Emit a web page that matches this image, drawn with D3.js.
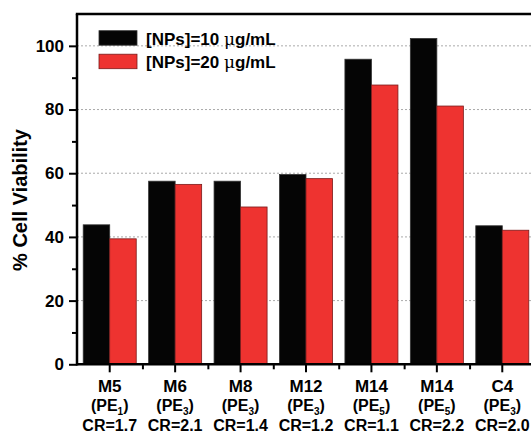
<!DOCTYPE html>
<html>
<head>
<meta charset="utf-8">
<script src="https://cdn.jsdelivr.net/npm/d3@7"></script>
<style>
  body { margin: 0; background: #fff; }
  svg text { font-family: "Liberation Sans", Arial, sans-serif; font-weight: bold; fill: #000; }
</style>
</head>
<body>
<svg id="chart"></svg>
<script>
const width = 531;
const height = 433;

// data
const samples = ['M5', 'M6', 'M8', 'M12', 'M14', 'M14', 'C4'];
const polymerSub = ['1', '3', '3', '3', '5', '5', '3'];
const crValues = ['1.7', '2.1', '1.4', '1.2', '1.1', '2.2', '2.0'];
const viability10 = [43.8, 57.5, 57.5, 59.6, 95.8, 102.3, 43.5];
const viability20 = [39.4, 56.5, 49.4, 58.3, 87.7, 81.1, 42.1];
const seriesNames = ['[NPs]=10 ', '[NPs]=20 '];
const seriesColors = ['#050505', '#ee3330'];
const yMajor = [0, 20, 40, 60, 80, 100];
const yMinor = [10, 30, 50, 70, 90];

const plot = { left: 77, right: 535, top: 14, bottom: 364.3 };

const svg = d3.select('#chart').attr('width', width).attr('height', height);

const idx = samples.map((d, i) => i);
const x = d3.scaleBand().domain(idx).range([plot.left, plot.right]);
const xSub = d3.scaleBand().domain([0, 1]).range([0, x.bandwidth()]).paddingOuter(0.234);
const xEdge = d3.scaleLinear().domain([0, samples.length]).range([plot.left, plot.right]);
const y = d3.scaleLinear().domain([0, 110]).range([plot.bottom, plot.top]);

// dashed grid lines -------------------
svg.append('g')
  .selectAll('line')
  .data(yMajor.filter(v => v > 0))
  .join('line')
  .attr('x1', plot.left)
  .attr('x2', plot.right)
  .attr('y1', d => y(d))
  .attr('y2', d => y(d))
  .attr('stroke', '#aaa')
  .attr('stroke-width', 1)
  .attr('stroke-dasharray', '2,2');

// bars
const rows = idx.map(i => ({ i, vals: [viability10[i], viability20[i]] }));
const groupsG = svg.append('g')
  .selectAll('g')
  .data(rows)
  .join('g')
  .attr('transform', d => `translate(${x(d.i)},0)`);
groupsG.selectAll('rect')
  .data(d => d.vals.map((v, s) => ({ v, s })))
  .join('rect')
  .attr('x', d => xSub(d.s))
  .attr('width', xSub.bandwidth())
  .attr('y', d => y(d.v))
  .attr('height', d => y(0) - y(d.v))
  .attr('fill', d => seriesColors[d.s])
  .attr('stroke', d => d.s ? '#7a1a1a' : '#333')
  .attr('stroke-width', 0.8);

// axes --------------------------------
const axisStyle = g => {
  g.select('.domain').remove();
  g.selectAll('.tick line').attr('stroke', '#000').attr('stroke-width', 2);
};

svg.append('g')
  .attr('transform', `translate(${plot.left},0)`)
  .call(d3.axisLeft(y).tickValues(yMajor).tickSize(8).tickPadding(5))
  .call(axisStyle)
  .call(g => g.selectAll('.tick text').style('font-size', '17px'));
svg.append('g')
  .attr('transform', `translate(${plot.left},0)`)
  .call(d3.axisLeft(y).tickValues(yMinor).tickSize(5).tickFormat(''))
  .call(axisStyle);

svg.append('g')
  .attr('transform', `translate(0,${plot.bottom})`)
  .call(d3.axisBottom(x).tickSize(8).tickFormat(''))
  .call(axisStyle);
svg.append('g')
  .attr('transform', `translate(0,${plot.bottom})`)
  .call(d3.axisBottom(xEdge).tickValues(d3.range(1, samples.length)).tickSize(5).tickFormat(''))
  .call(axisStyle);

// frame
svg.append('line')
  .attr('x1', plot.left).attr('x2', plot.right)
  .attr('y1', plot.bottom).attr('y2', plot.bottom)
  .attr('stroke', '#000').attr('stroke-width', 2.5);
svg.append('line')
  .attr('x1', plot.left).attr('x2', plot.left)
  .attr('y1', plot.top).attr('y2', plot.bottom + 1.2)
  .attr('stroke', '#000').attr('stroke-width', 2.5);
svg.append('line')
  .attr('x1', plot.left - 1.2).attr('x2', plot.right)
  .attr('y1', plot.top).attr('y2', plot.top)
  .attr('stroke', '#000').attr('stroke-width', 2.5);

// category labels, three lines each
const labels = svg.append('g')
  .selectAll('text')
  .data(idx)
  .join('text')
  .attr('text-anchor', 'middle')
  .attr('transform', d => `translate(${x(d) + x.bandwidth() / 2},0)`);
labels.append('tspan')
  .attr('x', 0).attr('y', 391.5)
  .style('font-size', '17px')
  .text(d => samples[d]);
const pe = labels.append('tspan')
  .attr('x', 0).attr('y', 411)
  .style('font-size', '16px');
pe.append('tspan').text('(PE');
pe.append('tspan').attr('dy', 4).style('font-size', '10px').text(d => polymerSub[d]);
pe.append('tspan').attr('dy', -4).text(')');
labels.append('tspan')
  .attr('x', 0).attr('y', 431)
  .style('font-size', '16px')
  .text(d => `CR=${crValues[d]}`);

// y title
svg.append('text')
  .attr('transform', 'rotate(-90)')
  .attr('x', -200)
  .attr('y', 27)
  .attr('text-anchor', 'middle')
  .style('font-size', '20px')
  .text('% Cell Viability');

// legend
const legend = svg.append('g')
  .selectAll('g')
  .data(seriesNames)
  .join('g')
  .attr('transform', (d, i) => `translate(99,${30.7 + i * 23.5})`);
legend.append('rect')
  .attr('width', 38)
  .attr('height', 14.5)
  .attr('fill', (d, i) => seriesColors[i])
  .attr('stroke', (d, i) => i ? '#7a1a1a' : '#333')
  .attr('stroke-width', 0.8);
const legendText = legend.append('text')
  .attr('x', 47)
  .attr('y', 14)
  .style('font-size', '17px');
legendText.append('tspan').text(d => d);
legendText.append('tspan').style('font-weight', 'normal').style('font-family', '"DejaVu Serif", serif').text('\u03bc');
legendText.append('tspan').text('g/mL');
</script>
</body>
</html>
